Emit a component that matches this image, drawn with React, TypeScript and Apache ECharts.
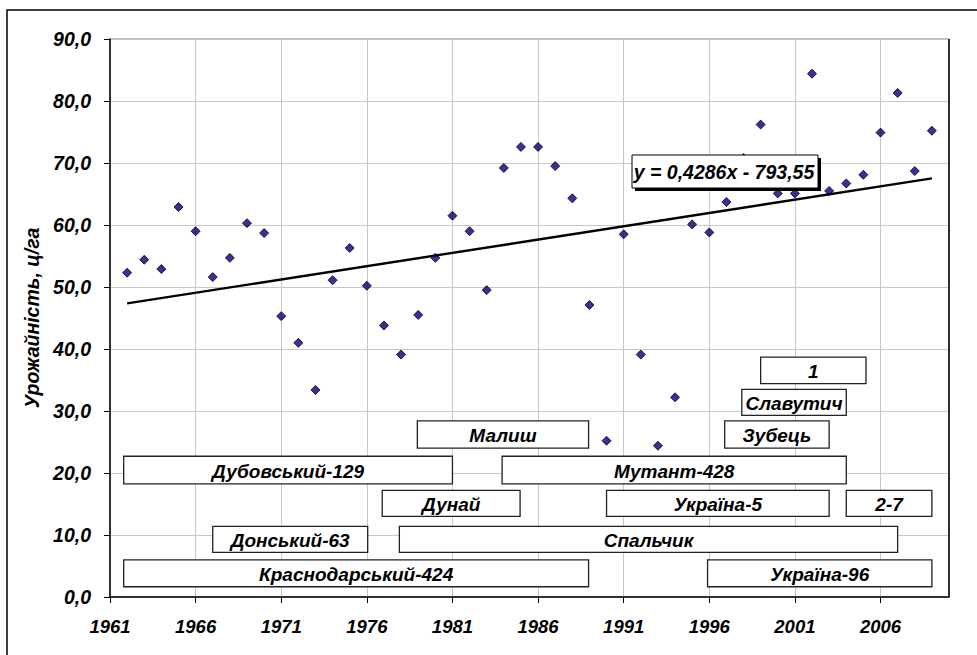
import React, { useEffect, useRef } from "react";
import * as echarts from "echarts";

// ---- data ----
const years = [
  1962, 1963, 1964, 1965, 1966, 1967, 1968, 1969, 1970, 1971,
  1972, 1973, 1974, 1975, 1976, 1977, 1978, 1979, 1980, 1981,
  1982, 1983, 1984, 1985, 1986, 1987, 1988, 1989, 1990, 1991,
  1992, 1993, 1994, 1995, 1996, 1997, 1998, 1999, 2000, 2001,
  2002, 2003, 2004, 2005, 2006, 2007, 2008, 2009,
];
const yields = [
  52.3, 54.4, 52.9, 62.9, 59.0, 51.6, 54.7, 60.3, 58.7, 45.3,
  41.0, 33.4, 51.1, 56.3, 50.2, 43.8, 39.1, 45.5, 54.7, 61.5,
  59.0, 49.5, 69.2, 72.6, 72.6, 69.5, 64.3, 47.1, 25.2, 58.5,
  39.1, 24.4, 32.2, 60.1, 58.8, 63.7, 70.8, 76.2, 65.1, 65.1,
  84.4, 65.5, 66.7, 68.1, 74.9, 81.3, 68.7, 75.2,
];
const trendYears = [1962, 2009];
const trendValues = [47.36, 67.51];
const equationText = "y = 0,4286x - 793,55";
const xTickLabels = [1961, 1966, 1971, 1976, 1981, 1986, 1991, 1996, 2001, 2006];
const yTickLabels = [0, 10, 20, 30, 40, 50, 60, 70, 80, 90];
const yAxisTitle = "Урожайність, ц/га";

const varieties = [
  "Краснодарський-424", "Україна-96", "Донський-63", "Спальчик",
  "Дунай", "Україна-5", "2-7", "Дубовський-129", "Мутант-428",
  "Малиш", "Зубець", "Славутич", "1",
];
const varietyStart = [1961.8, 1995.9, 1967.0, 1977.9, 1976.9, 1990.0, 2004.0, 1961.8, 1983.9, 1978.95, 1996.9, 1997.9, 1999.0];
const varietyEnd = [1988.95, 2009.0, 1976.05, 2007.0, 1984.95, 2003.0, 2009.0, 1981.0, 2004.0, 1988.95, 2003.0, 2004.0, 2005.15];
const varietyLow = [1.65, 1.65, 7.2, 7.2, 13.0, 13.0, 13.0, 18.25, 18.25, 24.0, 24.0, 29.3, 34.4];
const varietyHigh = [6.0, 6.0, 11.4, 11.4, 17.2, 17.2, 17.2, 22.7, 22.7, 28.4, 28.4, 33.5, 38.7];

const FONT = '"Liberation Sans", Arial, sans-serif';

export default function App() {
  const ref = useRef<HTMLDivElement>(null);

  useEffect(() => {
    if (!ref.current) return;
    const chart = echarts.init(ref.current, null, { renderer: "svg" });

    const points = years.map((y, i) => [y, yields[i]]);
    const trend = trendYears.map((y, i) => [y, trendValues[i]]);
    const boxes = varieties.map((n, i) => ({
      name: n,
      value: [varietyStart[i], varietyEnd[i], varietyLow[i], varietyHigh[i]],
    }));

    const option: any = {
      animation: false,
      backgroundColor: "#ffffff",
      grid: {
        left: 110,
        right: 28,
        top: 39,
        bottom: 58,
        show: true,
        borderColor: "#808080",
        borderWidth: 1,
        backgroundColor: "transparent",
      },
      xAxis: {
        type: "value",
        min: 1961,
        max: 2010,
        interval: 1,
        axisLine: { show: true, onZero: false, lineStyle: { color: "#000", width: 1.5 } },
        axisTick: {
          show: true,
          length: 6,
          customValues: xTickLabels,
          lineStyle: { color: "#000", width: 1 },
        },
        axisLabel: {
          customValues: xTickLabels,
          formatter: (v: number) => String(v),
          margin: 20,
          fontFamily: FONT,
          fontSize: 18.5,
          fontWeight: "bold",
          fontStyle: "italic",
          color: "#000",
        },
        splitLine: { show: true, lineStyle: { color: "#c8c8c8", width: 1 } },
      },
      yAxis: {
        type: "value",
        min: 0,
        max: 90,
        interval: 10,
        name: yAxisTitle,
        nameLocation: "middle",
        nameRotate: 90,
        nameGap: 66,
        nameTextStyle: {
          fontFamily: FONT,
          fontSize: 19.5,
          fontWeight: "bold",
          fontStyle: "italic",
          color: "#000",
        },
        axisLine: { show: true, lineStyle: { color: "#000", width: 1.5 } },
        axisTick: { show: true, length: 6, lineStyle: { color: "#000", width: 1 } },
        axisLabel: {
          customValues: yTickLabels,
          formatter: (v: number) => v.toFixed(1).replace(".", ","),
          margin: 19,
          fontFamily: FONT,
          fontSize: 19.5,
          fontWeight: "bold",
          fontStyle: "italic",
          color: "#000",
        },
        splitLine: { show: true, lineStyle: { color: "#c8c8c8", width: 1 } },
      },
      series: [
        {
          type: "custom",
          z: 3,
          data: boxes,
          encode: { x: [0, 1], y: [2, 3] },
          renderItem: (params: any, api: any) => {
            const p0 = api.coord([api.value(0), api.value(3)]);
            const p1 = api.coord([api.value(1), api.value(2)]);
            const name = varieties[params.dataIndex];
            return {
              type: "group",
              children: [
                {
                  type: "rect",
                  shape: { x: p0[0], y: p0[1], width: p1[0] - p0[0], height: p1[1] - p0[1] },
                  style: { fill: "#ffffff", stroke: "#222", lineWidth: 1.3 },
                },
                {
                  type: "text",
                  style: {
                    text: name,
                    x: (p0[0] + p1[0]) / 2,
                    y: (p0[1] + p1[1]) / 2 + 1,
                    align: "center",
                    verticalAlign: "middle",
                    fontFamily: FONT,
                    fontSize: 19,
                    fontWeight: "bold",
                    fontStyle: "italic",
                    fill: "#000",
                  },
                },
              ],
            };
          },
        },
        {
          type: "line",
          z: 4,
          data: trend,
          symbol: "none",
          lineStyle: { color: "#000", width: 2.4 },
        },
        {
          type: "scatter",
          z: 5,
          data: points,
          symbol: "diamond",
          symbolSize: 9,
          itemStyle: { color: "#000080", borderColor: "#000", borderWidth: 1 },
        },
      ],
      graphic: [
        {
          type: "rect",
          z: 100,
          shape: { x: 7, y: 10, width: 1100, height: 800 },
          style: { fill: "none", stroke: "#000", lineWidth: 1.5 },
          silent: true,
        },
        {
          type: "line",
          z: 100,
          shape: { x1: 949, y1: 39, x2: 949, y2: 597 },
          style: { stroke: "#000", lineWidth: 1.5 },
        },
        {
          type: "rect",
          z: 100,
          shape: { x: 635, y: 158, width: 186, height: 33 },
          style: { fill: "#000", stroke: "none" },
        },
        {
          type: "rect",
          z: 101,
          shape: { x: 632, y: 155, width: 186, height: 33 },
          style: { fill: "#ffffff", stroke: "#000", lineWidth: 1 },
        },
        {
          type: "text",
          z: 102,
          style: {
            text: equationText,
            x: 724,
            y: 172,
            align: "center",
            verticalAlign: "middle",
            fontFamily: FONT,
            fontSize: 19.5,
            fontWeight: "bold",
            fontStyle: "italic",
            fill: "#000",
          },
        },
      ],
    };

    chart.setOption(option);
    return () => chart.dispose();
  }, []);

  return (
    <div
      ref={ref}
      style={{ position: "fixed", left: 0, top: 0, width: 977, height: 655, background: "#fff" }}
    />
  );
}
